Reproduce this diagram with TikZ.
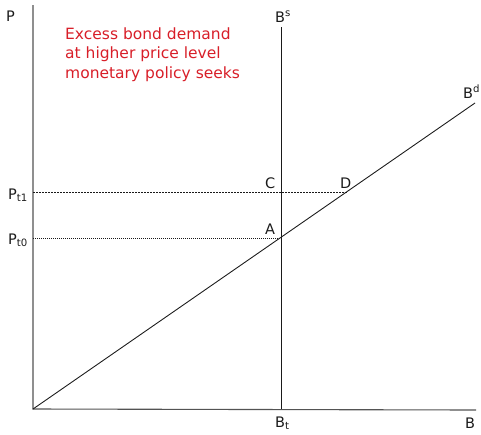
\documentclass[tikz,border=0pt]{standalone}
\usepackage{fontspec}
\setmainfont{DejaVu Sans}
\usetikzlibrary{calc}
\definecolor{note}{HTML}{D81E28}
\definecolor{ink}{HTML}{1A1A1A}

\begin{document}
\begin{tikzpicture}[
    x=1pt, y=-1pt,
    every node/.style={font=\fontsize{14.5}{16}\selectfont, text=ink, inner sep=0pt},
    % axes and curves
    axis/.style={line width=1.1pt, ink!75},
    curve/.style={line width=0.9pt, ink},
    % guide lines to the P axis
    guide/.style={line width=0.6pt, ink, dash pattern=on 2pt off 1pt},
    lbl/.style={anchor=base west}
]
\useasboundingbox (0,0) rectangle (481,434);

% ---------- Points ----------
\coordinate (O) at (33,409);
\coordinate (ptop) at (33,5);
\coordinate (bend) at (476,410);
\coordinate (stop) at (281,27);
\coordinate (sbot) at (281,409);
\coordinate (dtop) at (475,103);
\coordinate (a) at (281,238);
\coordinate (d) at (346.5,192);
\coordinate (pt0) at (33,238);
\coordinate (pt1) at (33,192);

% ---------- Axes ----------
\draw[axis] (ptop) -- (O) -- (bend);

% ---------- Supply and demand ----------
\draw[curve] (stop) -- (sbot);
\draw[curve] (O) -- (dtop);

% ---------- Price levels ----------
\draw[guide, dash pattern=on 1pt off 1pt] (pt0) -- (a);
\draw[guide] (pt1) -- (d);

% ---------- Labels ----------
\node[lbl] (plab) at (6,21) {P};
\node[lbl] (blab) at (465,428) {B};
\node[lbl] (bslab) at (275,22) {B\textsuperscript{s}};
\node[lbl] (bdlab) at (463,98) {B\textsuperscript{d}};
\node[lbl] (btlab) at (275,427) {B\textsubscript{t}};
\node[lbl] (pt1lab) at (8,199) {P\textsubscript{t1}};
\node[lbl] (pt0lab) at (8,244) {P\textsubscript{t0}};
\node[lbl] (clab) at (265,188) {C};
\node[lbl] (dlab) at (340,188) {D};
\node[lbl] (alab) at (265,234) {A};

% ---------- Note ----------
\node[anchor=base west, align=left, text=note,
      font=\fontsize{15.5}{19.5}\selectfont] (note) at (65,78)
  {Excess bond demand\\at higher price level\\monetary policy seeks};

\end{tikzpicture}
\end{document}
